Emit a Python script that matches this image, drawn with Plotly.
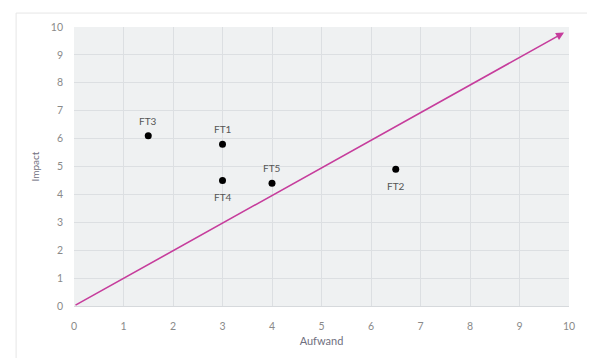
import plotly.graph_objects as go

# Data
labels = ["FT1", "FT2", "FT3", "FT4", "FT5"]
aufwand = [3.0, 6.5, 1.5, 3.0, 4.0]
impact = [5.8, 4.9, 6.1, 4.5, 4.4]
label_side = ["top", "bottom", "top", "bottom", "top"]
arrow_start = (0.0, 0.0)
arrow_end = (9.9, 9.8)
ticks = list(range(0, 11))

fig = go.Figure()
fig.add_trace(go.Scatter(
    x=aufwand, y=impact, mode="markers",
    marker=dict(color="black", size=7),
    hoverinfo="skip", showlegend=False,
))

annotations = []
for lab, xv, yv, side in zip(labels, aufwand, impact, label_side):
    annotations.append(dict(
        x=xv, y=yv, xref="x", yref="y", text=lab, showarrow=False,
        yshift=15 if side == "top" else -17,
        font=dict(family="Lato, Open Sans, sans-serif", size=10, color="#555555"),
    ))
annotations.append(dict(
    x=arrow_end[0], y=arrow_end[1], ax=arrow_start[0], ay=arrow_start[1],
    xref="x", yref="y", axref="x", ayref="y", text="",
    showarrow=True, arrowhead=2, arrowsize=1.0, arrowwidth=1.6,
    arrowcolor="#c63d9c", standoff=0, startstandoff=0,
))

fig.update_layout(
    width=587, height=350,
    margin=dict(l=66, r=26, t=19, b=52),
    paper_bgcolor="white",
    plot_bgcolor="#eff1f2",
    font=dict(family="Lato, Open Sans, sans-serif", size=10.5, color="#8a8a8a"),
    annotations=annotations,
    shapes=[dict(type="rect", xref="paper", yref="paper",
                 x0=-0.117, x1=1.040, y0=-0.3, y1=1.050,
                 line=dict(color="#e6e6e6", width=1), fillcolor="rgba(0,0,0,0)",
                 layer="below")],
)
fig.update_xaxes(
    range=[0, 10], tickvals=ticks, showgrid=True, gridcolor="#dcdfe2", gridwidth=1,
    zeroline=False, showline=True, linecolor="#d6d9dc", linewidth=1,
    ticks="", ticklabelstandoff=10,
    title=dict(text="Aufwand", font=dict(size=11, color="#6f6f80"), standoff=6),
)
fig.update_yaxes(
    range=[0, 10], tickvals=ticks, showgrid=True, gridcolor="#dcdfe2", gridwidth=1,
    zeroline=False, showline=False,
    ticks="", ticklabelstandoff=10,
    title=dict(text="Impact", font=dict(size=10, color="#6f6f80"), standoff=9),
)
fig.write_html("out.html")
